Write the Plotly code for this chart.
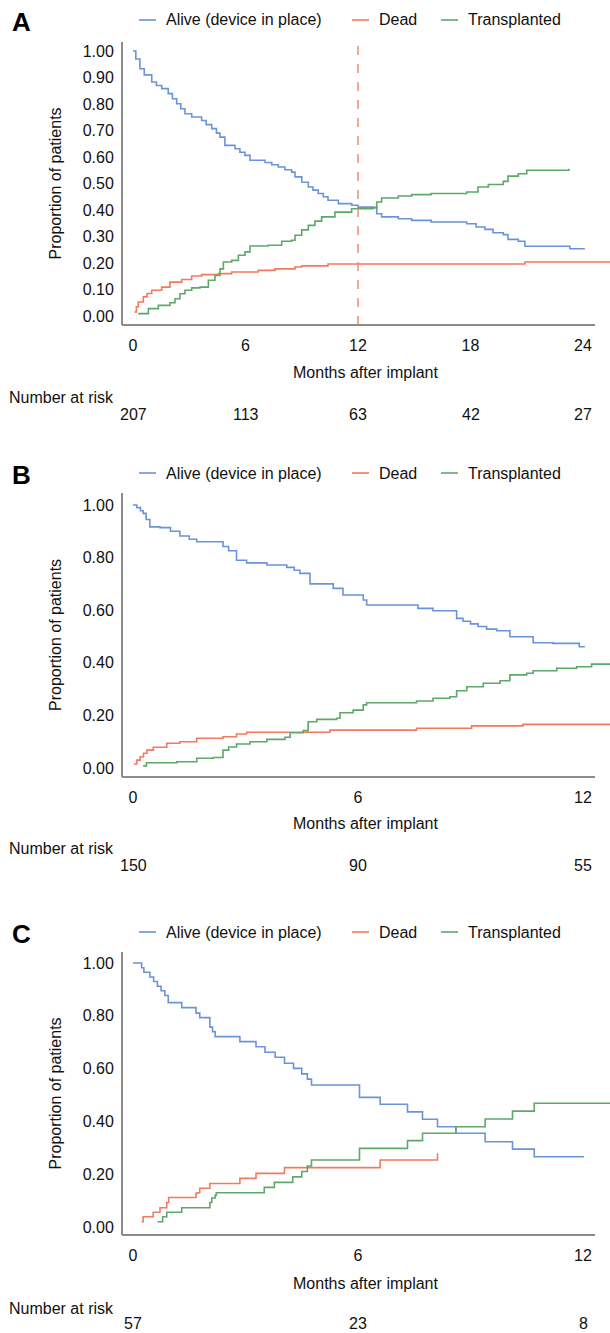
import plotly.graph_objects as go

# ---------------- DATA ----------------
# Panel A (0-24 months)
a_alive_t = [0, 0.15, 0.37, 0.6, 1.0, 1.25, 1.53, 1.88, 2.1, 2.33, 2.55, 2.77, 3.13, 3.66, 3.9, 4.2, 4.45, 4.64, 4.9, 5.44, 5.7, 5.97, 6.24, 7.04, 7.4, 7.75, 8.1, 8.46, 8.64, 9.0, 9.35, 9.6, 9.88, 10.15, 10.4, 10.95, 11.66, 12.0, 12.8, 13.0, 13.26, 14.15, 14.86, 15.9, 17.8, 18.3, 18.77, 19.2, 19.75, 20.0, 20.55, 20.9, 23.3, 24.1]
a_alive_s = [1.0, 0.97, 0.933, 0.91, 0.883, 0.87, 0.858, 0.839, 0.82, 0.801, 0.782, 0.763, 0.751, 0.738, 0.722, 0.707, 0.69, 0.675, 0.644, 0.631, 0.618, 0.606, 0.588, 0.579, 0.571, 0.562, 0.552, 0.543, 0.525, 0.505, 0.487, 0.475, 0.462, 0.45, 0.437, 0.424, 0.418, 0.411, 0.409, 0.386, 0.374, 0.367, 0.361, 0.355, 0.348, 0.336, 0.327, 0.314, 0.307, 0.289, 0.282, 0.263, 0.254, 0.254]
a_dead_t = [0.07, 0.18, 0.28, 0.55, 0.75, 1.0, 1.53, 1.97, 2.6, 3.13, 3.66, 4.55, 5.26, 6.68, 7.57, 8.64, 9.0, 10.4, 20.9, 25.5]
a_dead_s = [0.015, 0.035, 0.053, 0.072, 0.085, 0.097, 0.109, 0.128, 0.138, 0.151, 0.156, 0.16, 0.166, 0.172, 0.178, 0.185, 0.189, 0.196, 0.204, 0.204]
a_trans_t = [0.28, 0.82, 1.35, 1.97, 2.24, 2.5, 2.77, 3.13, 3.57, 4.02, 4.37, 4.64, 4.82, 5.26, 5.62, 5.97, 6.24, 7.2, 7.93, 8.46, 8.64, 9.0, 9.35, 9.7, 10.06, 10.77, 11.66, 12.8, 13.0, 13.26, 14.15, 14.86, 15.9, 17.8, 18.4, 18.95, 19.75, 20.0, 20.55, 21.0, 23.25]
a_trans_s = [0.009, 0.028, 0.04, 0.05, 0.065, 0.084, 0.097, 0.106, 0.109, 0.135, 0.153, 0.178, 0.204, 0.21, 0.229, 0.242, 0.264, 0.267, 0.282, 0.286, 0.305, 0.325, 0.342, 0.358, 0.374, 0.392, 0.405, 0.409, 0.43, 0.445, 0.453, 0.458, 0.462, 0.468, 0.487, 0.496, 0.508, 0.528, 0.537, 0.55, 0.556]

# Panel B (0-12 months)
b_alive_t = [0, 0.1, 0.2, 0.27, 0.35, 0.45, 0.72, 1.0, 1.25, 1.5, 1.7, 2.4, 2.55, 2.76, 3.03, 3.57, 4.1, 4.3, 4.45, 4.72, 5.34, 5.6, 6.14, 6.23, 7.6, 8.0, 8.63, 8.8, 9.0, 9.2, 9.43, 9.7, 10.05, 10.67, 11.2, 11.9, 12.05]
b_alive_s = [1.0, 0.99, 0.978, 0.968, 0.945, 0.917, 0.914, 0.9, 0.882, 0.87, 0.86, 0.842, 0.826, 0.79, 0.78, 0.772, 0.763, 0.752, 0.74, 0.70, 0.683, 0.658, 0.639, 0.62, 0.607, 0.598, 0.569, 0.558, 0.548, 0.538, 0.528, 0.522, 0.499, 0.476, 0.474, 0.461, 0.461]
b_dead_t = [0.03, 0.1, 0.19, 0.28, 0.37, 0.54, 0.9, 1.25, 1.7, 2.4, 2.76, 3.03, 5.25, 7.56, 9.03, 10.4, 12.75]
b_dead_s = [0.015, 0.03, 0.043, 0.056, 0.068, 0.079, 0.094, 0.1, 0.113, 0.119, 0.129, 0.136, 0.144, 0.151, 0.16, 0.166, 0.166]
b_trans_t = [0.27, 0.36, 1.17, 1.7, 2.14, 2.4, 2.55, 2.76, 3.12, 3.57, 4.05, 4.19, 4.54, 4.67, 4.9, 5.43, 5.52, 5.87, 6.14, 6.23, 7.56, 8.0, 8.45, 8.63, 8.9, 9.34, 9.79, 10.05, 10.5, 10.67, 11.3, 11.83, 12.23, 12.75]
b_trans_s = [0.008, 0.02, 0.024, 0.037, 0.04, 0.068, 0.08, 0.091, 0.1, 0.109, 0.117, 0.134, 0.142, 0.176, 0.185, 0.189, 0.21, 0.22, 0.24, 0.248, 0.255, 0.265, 0.271, 0.294, 0.309, 0.322, 0.332, 0.354, 0.36, 0.37, 0.379, 0.385, 0.395, 0.395]

# Panel C (0-12 months)
c_alive_t = [0, 0.23, 0.29, 0.45, 0.55, 0.65, 0.75, 0.85, 0.94, 1.3, 1.68, 1.78, 2.05, 2.12, 2.19, 2.85, 3.28, 3.52, 3.79, 4.04, 4.28, 4.5, 4.65, 4.76, 6.04, 6.59, 7.32, 7.72, 8.12, 8.61, 9.39, 10.12, 10.7, 12.03]
c_alive_s = [1.0, 0.982, 0.965, 0.947, 0.93, 0.912, 0.895, 0.877, 0.85, 0.831, 0.81, 0.793, 0.757, 0.74, 0.721, 0.702, 0.683, 0.662, 0.643, 0.62, 0.601, 0.58, 0.56, 0.538, 0.491, 0.465, 0.436, 0.408, 0.38, 0.355, 0.323, 0.295, 0.266, 0.266]
c_dead_t = [0.23, 0.27, 0.54, 0.72, 0.9, 0.95, 1.68, 1.72, 1.78, 2.05, 2.85, 3.28, 4.04, 6.59, 8.12]
c_dead_s = [0.02, 0.039, 0.056, 0.073, 0.093, 0.112, 0.128, 0.13, 0.147, 0.165, 0.184, 0.203, 0.225, 0.254, 0.279]
c_trans_t = [0.65, 0.79, 0.9, 1.3, 2.05, 2.1, 2.19, 2.22, 3.5, 3.77, 4.26, 4.5, 4.65, 4.76, 6.04, 7.32, 7.72, 8.61, 9.39, 10.12, 10.7, 12.75]
c_trans_s = [0.02, 0.039, 0.056, 0.073, 0.093, 0.11, 0.12, 0.13, 0.15, 0.169, 0.19, 0.21, 0.231, 0.254, 0.298, 0.327, 0.355, 0.38, 0.409, 0.439, 0.469, 0.469]

# Number at risk
a_risk_months = [0, 6, 12, 18, 24]
a_risk_n = [207, 113, 63, 42, 27]
b_risk_months = [0, 6, 12]
b_risk_n = [150, 90, 55]
c_risk_months = [0, 6, 12]
c_risk_n = [57, 23, 8]

# Tick labels
a_yticks = [0.0, 0.1, 0.2, 0.3, 0.4, 0.5, 0.6, 0.7, 0.8, 0.9, 1.0]
bc_yticks = [0.0, 0.2, 0.4, 0.6, 0.8, 1.0]
a_xticks = [0, 6, 12, 18, 24]
bc_xticks = [0, 6, 12]

series_names = ["Alive (device in place)", "Dead", "Transplanted"]

# ---------------- STYLE / LAYOUT ----------------
W, H = 610, 1333
BLUE = "#6a94d9"
RED = "#f27a5e"
GREEN = "#5da86a"
AXIS_COL = "#8c8c8c"
FONT = "Liberation Sans, Arial, Helvetica, sans-serif"
FS = 16

def yp(p):
    return 1 - p / H

def xp(p):
    return p / W

# panel geometry in pixels
panels = [
    dict(letter="A", zero=316, one=51, top=42, bottom=325, ppm=18.75, legend_y=20,
         xt=342, xtitle=372, nar=397, nums=414),
    dict(letter="B", zero=768, one=505, top=493, bottom=777, ppm=37.5, legend_y=473,
         xt=795, xtitle=823, nar=848, nums=866),
    dict(letter="C", zero=1227, one=963, top=952, bottom=1235, ppm=37.5, legend_y=932,
         xt=1252, xtitle=1283, nar=1308, nums=1323),
]
X_LEFT, X_RIGHT, X0PX, X_AXIS_END = 123, 610, 133, 595

data_sets = [
    (a_alive_t, a_alive_s, a_dead_t, a_dead_s, a_trans_t, a_trans_s, a_risk_months, a_risk_n, a_yticks, a_xticks),
    (b_alive_t, b_alive_s, b_dead_t, b_dead_s, b_trans_t, b_trans_s, b_risk_months, b_risk_n, bc_yticks, bc_xticks),
    (c_alive_t, c_alive_s, c_dead_t, c_dead_s, c_trans_t, c_trans_s, c_risk_months, c_risk_n, bc_yticks, bc_xticks),
]

fig = go.Figure()
annotations = []
shapes = []
layout_axes = {}

for i, (pan, ds) in enumerate(zip(panels, data_sets)):
    at, as_, dt, dsv, tt, ts, rm, rn, yt, xt = ds
    k = "" if i == 0 else str(i + 1)
    xa, ya = "x" + k, "y" + k
    colors = [BLUE, RED, GREEN]
    for (t, s), col, name in zip([(at, as_), (dt, dsv), (tt, ts)], colors, series_names):
        fig.add_trace(go.Scatter(x=t, y=s, mode="lines", line=dict(color=col, width=1.6, shape="hv"),
                                 name=name, showlegend=False, xaxis=xa, yaxis=ya, hoverinfo="skip"))
    scale = pan["zero"] - pan["one"]
    yr = [(pan["zero"] - pan["bottom"]) / scale, (pan["zero"] - pan["top"]) / scale]
    xr = [(X_LEFT - X0PX) / pan["ppm"], (X_RIGHT - X0PX) / pan["ppm"]]
    layout_axes["xaxis" + k] = dict(domain=[xp(X_LEFT), xp(X_RIGHT)], range=xr, anchor=ya,
                                    showgrid=False, zeroline=False, showline=False,
                                    tickvals=xt, ticktext=[str(v) for v in xt],
                                    ticks="outside", ticklen=6, tickcolor="rgba(0,0,0,0)",
                                    tickfont=dict(family=FONT, size=FS, color="#111"))
    layout_axes["yaxis" + k] = dict(domain=[yp(pan["bottom"]), yp(pan["top"])], range=yr, anchor=xa,
                                    showgrid=False, zeroline=False, showline=True,
                                    linecolor=AXIS_COL, linewidth=2,
                                    tickvals=yt, ticktext=["%.2f" % v for v in yt],
                                    ticks="outside", ticklen=4, tickcolor="rgba(0,0,0,0)",
                                    tickfont=dict(family=FONT, size=FS, color="#111"))
    # bottom axis line
    shapes.append(dict(type="line", xref="paper", yref="paper", x0=xp(X_LEFT - 1), x1=xp(X_AXIS_END),
                       y0=yp(pan["bottom"]), y1=yp(pan["bottom"]), line=dict(color=AXIS_COL, width=2)))
    # panel letter
    annotations.append(dict(text="<b>%s</b>" % pan["letter"], xref="paper", yref="paper",
                            x=xp(21), y=yp(pan["legend_y"] + 2), xanchor="center", yanchor="middle",
                            showarrow=False, font=dict(family=FONT, size=26, color="#000")))
    # legend (manual)
    leg = [(139, 156, 164, series_names[0], BLUE), (352, 369, 377, series_names[1], RED),
           (441, 458, 466, series_names[2], GREEN)]
    for x0, x1, tx, txt, col in leg:
        shapes.append(dict(type="line", xref="paper", yref="paper", x0=xp(x0), x1=xp(x1),
                           y0=yp(pan["legend_y"]), y1=yp(pan["legend_y"]), line=dict(color=col, width=1.6)))
        annotations.append(dict(text=txt, xref="paper", yref="paper", x=xp(tx), y=yp(pan["legend_y"]),
                                xanchor="left", yanchor="middle", showarrow=False,
                                font=dict(family=FONT, size=FS, color="#111")))
    # y title
    annotations.append(dict(text="Proportion of patients", xref="paper", yref="paper", x=xp(55),
                            y=yp((pan["top"] + pan["bottom"]) / 2), textangle=-90, xanchor="center",
                            yanchor="middle", showarrow=False, font=dict(family=FONT, size=FS, color="#111")))
    # x title
    annotations.append(dict(text="Months after implant", xref="paper", yref="paper", x=xp(366),
                            y=yp(pan["xtitle"]), xanchor="center", yanchor="middle", showarrow=False,
                            font=dict(family=FONT, size=FS, color="#111")))
    annotations.append(dict(text="Number at risk", xref="paper", yref="paper", x=xp(7),
                            y=yp(pan["nar"]), xanchor="left", yanchor="middle", showarrow=False,
                            font=dict(family=FONT, size=FS, color="#111")))
    for m, n in zip(rm, rn):
        annotations.append(dict(text=str(n), xref=xa, yref="paper", x=m, y=yp(pan["nums"]),
                                xanchor="center", yanchor="middle", showarrow=False,
                                font=dict(family=FONT, size=FS, color="#111")))

# 12-month reference line in panel A
shapes.append(dict(type="line", xref="x", yref="y domain", x0=12, x1=12, y0=0, y1=1,
                   line=dict(color=RED, width=1.3, dash="dash")))

fig.update_layout(width=W, height=H, margin=dict(l=0, r=0, t=0, b=0),
                  paper_bgcolor="white", plot_bgcolor="white", showlegend=False,
                  annotations=annotations, shapes=shapes, **layout_axes)

fig.write_html("out.html", config={"displayModeBar": False},
               post_script="document.body.style.margin='0px';")
